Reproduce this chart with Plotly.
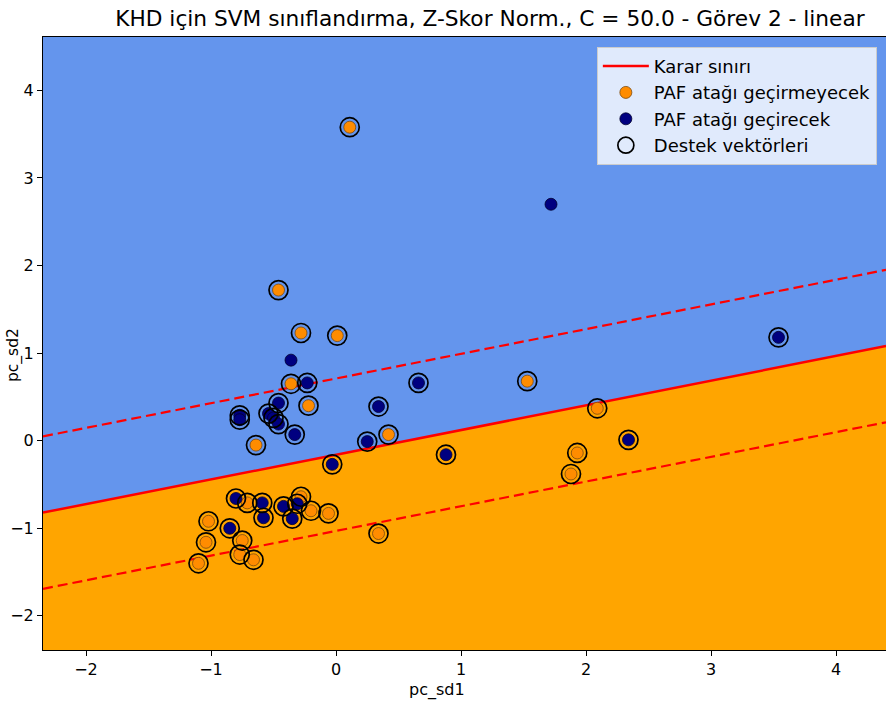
import plotly.graph_objects as go

# Class 0: "PAF atağı geçirmeyecek"
orange_x = [0.11, -0.46, -0.28, 0.01, -0.36, -0.22, -0.64, 0.42, 1.53, 2.09, 1.93, 1.88,
            -0.71, -0.28, -0.20, -0.06, -1.02, -1.04, -0.75, -0.77, -0.66, -1.10, 0.34]
orange_y = [3.58, 1.72, 1.23, 1.20, 0.65, 0.40, -0.05, 0.07, 0.68, 0.37, -0.14, -0.38,
            -0.71, -0.64, -0.80, -0.83, -0.92, -1.16, -1.14, -1.30, -1.36, -1.40, -1.06]
orange_sv = [1] * 23

# Class 1: "PAF atağı geçirecek"
navy_x = [1.72, 3.54, -0.36, -0.23, 0.66, -0.46, 0.34, -0.77, -0.77, -0.54, -0.50, -0.46,
          -0.33, 0.25, -0.03, 0.88, 2.34, -0.80, -0.59, -0.58, -0.42, -0.35, -0.31, -0.85]
navy_y = [2.70, 1.18, 0.92, 0.66, 0.66, 0.43, 0.39, 0.29, 0.24, 0.31, 0.26, 0.19,
          0.07, -0.01, -0.27, -0.16, 0.01, -0.66, -0.71, -0.88, -0.75, -0.89, -0.72, -1.00]
navy_sv = [0, 1, 0, 1, 1, 1, 1, 1, 1, 1, 1, 1,
           1, 1, 1, 1, 1, 1, 1, 1, 1, 1, 1, 1]

# Linear SVM decision function: w·x + b
w = [-0.324, 1.149]
b = 0.184

x_range = [-2.344, 4.40]
y_range = [-2.39, 4.61]
x_ticks = [-2, -1, 0, 1, 2, 3, 4]
y_ticks = [-2, -1, 0, 1, 2, 3, 4]

title_text = "KHD için SVM sınıflandırma, Z-Skor Norm., C = 50.0 - Görev 2 - linear"
x_label = "pc_sd1"
y_label = "pc_sd2"


def level_y(x, level=0.0):
    return (level - w[0] * x - b) / w[1]


x0, x1 = x_range
y_lo, y_hi = y_range
edge_x = [x0, x1]
edge_y = [level_y(x0), level_y(x1)]

sv_x = [x for x, s in zip(orange_x, orange_sv) if s] + [x for x, s in zip(navy_x, navy_sv) if s]
sv_y = [y for y, s in zip(orange_y, orange_sv) if s] + [y for y, s in zip(navy_y, navy_sv) if s]

fig = go.Figure()

# Predicted regions
fig.add_trace(go.Scatter(x=[x0, x1, x1, x0], y=[edge_y[0], edge_y[1], y_hi, y_hi],
                         fill="toself", fillcolor="#6495ED", mode="lines",
                         line=dict(width=0), showlegend=False, hoverinfo="skip"))
fig.add_trace(go.Scatter(x=[x0, x1, x1, x0], y=[edge_y[0], edge_y[1], y_lo, y_lo],
                         fill="toself", fillcolor="#FFA500", mode="lines",
                         line=dict(width=0), showlegend=False, hoverinfo="skip"))

# Margins
for lv in (1.0, -1.0):
    fig.add_trace(go.Scatter(x=edge_x, y=[level_y(x0, lv), level_y(x1, lv)], mode="lines",
                             line=dict(color="#FF0000", width=2.2, dash="10px,5px"),
                             showlegend=False, hoverinfo="skip"))

# Decision boundary
fig.add_trace(go.Scatter(x=edge_x, y=edge_y, mode="lines", name="Karar sınırı",
                         line=dict(color="#FF0000", width=2.5), legendrank=1))

fig.add_trace(go.Scatter(x=orange_x, y=orange_y, mode="markers", name="PAF atağı geçirmeyecek",
                         marker=dict(color="#FF8C00", size=12,
                                     line=dict(color="#7a4a10", width=0.8)),
                         legendrank=2))
fig.add_trace(go.Scatter(x=navy_x, y=navy_y, mode="markers", name="PAF atağı geçirecek",
                         marker=dict(color="#000080", size=12,
                                     line=dict(color="#000030", width=0.8)),
                         legendrank=3))
fig.add_trace(go.Scatter(x=sv_x, y=sv_y, mode="markers", name="Destek vektörleri",
                         marker=dict(symbol="circle-open", color="#000000", size=19,
                                     line=dict(width=1.7)),
                         legendrank=4))

font_family = "DejaVu Sans, Verdana, sans-serif"

fig.update_layout(
    width=886, height=711,
    margin=dict(l=43, r=0, t=37, b=61, autoexpand=False),
    plot_bgcolor="white", paper_bgcolor="white",
    font=dict(family=font_family, color="black", size=16),
    title=dict(text=title_text, x=0.553, xref="container", xanchor="center",
               y=1 - 18 / 711, yref="container", yanchor="middle",
               font=dict(size=21.7, family=font_family, color="black")),
    xaxis=dict(range=x_range, tickvals=x_ticks, showgrid=False, zeroline=False,
               showline=True, linecolor="black", linewidth=1, mirror=True,
               ticks="outside", ticklen=5, tickcolor="black", automargin=False,
               tickfont=dict(size=16)),
    yaxis=dict(range=y_range, tickvals=y_ticks, showgrid=False, zeroline=False,
               showline=True, linecolor="black", linewidth=1, mirror=True,
               ticks="outside", ticklen=5, tickcolor="black", automargin=False,
               tickfont=dict(size=16)),
    legend=dict(x=0.657, y=0.984, xanchor="left", yanchor="top", itemwidth=46,
                bgcolor="rgba(255,255,255,0.8)", bordercolor="#cccccc", borderwidth=1,
                font=dict(size=18, family=font_family, color="black")),
    showlegend=True,
    annotations=[
        dict(text=x_label, xref="paper", yref="paper", x=(437 - 43) / 843, y=-40 / 613,
             xanchor="center", yanchor="middle", showarrow=False, font=dict(size=16)),
        dict(text=y_label, xref="paper", yref="paper", x=-29 / 843, y=(650 - 355) / 613,
             xanchor="center", yanchor="middle", textangle=-90, showarrow=False,
             font=dict(size=15.5)),
    ],
)

fig.write_html("out.html", config={"displayModeBar": False})
